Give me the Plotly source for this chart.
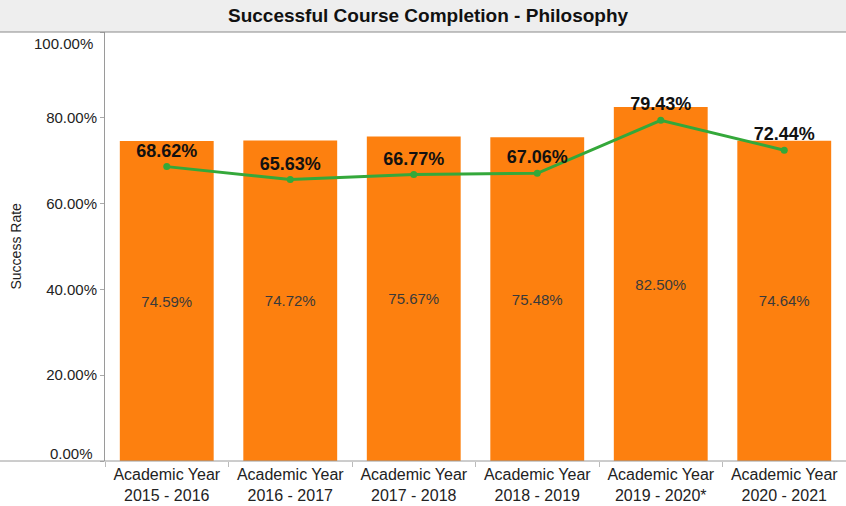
import plotly.graph_objects as go

# data
years = ["Academic Year<br>2015 - 2016", "Academic Year<br>2016 - 2017",
         "Academic Year<br>2017 - 2018", "Academic Year<br>2018 - 2019",
         "Academic Year<br>2019 - 2020*", "Academic Year<br>2020 - 2021"]
bar_rates = [74.59, 74.72, 75.67, 75.48, 82.50, 74.64]
line_rates = [68.62, 65.63, 66.77, 67.06, 79.43, 72.44]
y_ticks = [0, 20, 40, 60, 80, 100]
y_tick_text = ["0.00%", "20.00%", "40.00%", "60.00%", "80.00%", "100.00%"]

W, H = 846, 506
L, R, T, B = 105, 0, 32, 45
plot_w = W - L - R
plot_h = H - T - B
FONT = "Liberation Sans, Arial"

fig = go.Figure()

fig.add_trace(go.Bar(
    x=years, y=bar_rates,
    marker=dict(color="#fd800f", line=dict(width=0)),
    width=0.76,
    text=[f"{v:.2f}%" for v in bar_rates],
    textposition="inside", insidetextanchor="middle", textangle=0,
    textfont=dict(family=FONT, size=15, color="#3a3a3a"),
    hoverinfo="skip", showlegend=False,
))

fig.add_trace(go.Scatter(
    x=years, y=line_rates,
    mode="lines+markers+text",
    line=dict(color="#34a83a", width=3),
    marker=dict(color="#34a83a", size=7),
    text=[f"<b>{v:.2f}%</b>" for v in line_rates],
    textposition="top center",
    textfont=dict(family=FONT, size=18, color="#111111"),
    showlegend=False,
))

# title band
fig.add_shape(type="rect", xref="paper", yref="paper",
              x0=-L / plot_w, x1=1, y0=1, y1=1 + T / plot_h,
              fillcolor="#eeeeee", line=dict(width=0), layer="below")
fig.add_shape(type="line", xref="paper", yref="paper",
              x0=-L / plot_w, x1=1, y0=1, y1=1,
              line=dict(color="#8a8a8a", width=1))
# baseline across the full width
fig.add_shape(type="line", xref="paper", yref="paper",
              x0=-L / plot_w, x1=1, y0=0, y1=0,
              line=dict(color="#9a9a9a", width=1))

fig.add_annotation(
    text="<b>Successful Course Completion - Philosophy</b>",
    xref="paper", yref="paper", x=(428 - L) / plot_w, y=1 + 16 / plot_h,
    xanchor="center", yanchor="middle", showarrow=False,
    font=dict(family=FONT, size=19, color="#111111"),
)
fig.add_annotation(
    text="Success Rate", textangle=-90,
    xref="paper", yref="paper", x=(15 - L) / plot_w, y=0.5,
    xanchor="center", yanchor="middle", showarrow=False,
    font=dict(family=FONT, size=14, color="#222222"),
)

# edge tick labels are nudged inward, like the original tool does
for val, txt, shift in [(y_ticks[0], y_tick_text[0], 8), (y_ticks[-1], y_tick_text[-1], -11)]:
    fig.add_annotation(
        text=txt, xref="paper", yref="y", x=0, y=val, yshift=shift, xshift=-10,
        xanchor="right", yanchor="middle", showarrow=False,
        font=dict(family=FONT, size=15, color="#222222"),
    )
tick_text_shown = [""] + y_tick_text[1:-1] + [""]

fig.update_layout(
    width=W, height=H,
    margin=dict(l=L, r=R, t=T, b=B, autoexpand=False),
    paper_bgcolor="white", plot_bgcolor="white",
    bargap=0.24,
    font=dict(family=FONT, color="#333333"),
    xaxis=dict(
        type="category", showgrid=False, zeroline=False, showline=False,
        ticks="outside", tickson="boundaries", ticklen=5, tickcolor="#bbbbbb",
        tickfont=dict(size=16, color="#222222"), automargin=False,
        ticklabelstandoff=2,
    ),
    yaxis=dict(
        range=[0, 100], tickvals=y_ticks, ticktext=tick_text_shown,
        showgrid=False, zeroline=False,
        showline=True, linecolor="#9a9a9a", linewidth=1,
        ticks="outside", ticklen=4, tickcolor="#aaaaaa",
        tickfont=dict(size=15, color="#222222"), automargin=False,
    ),
)

fig.write_html("out.html", config={"displayModeBar": False},
               post_script="document.body.style.margin='0';document.body.style.overflow='hidden';")
